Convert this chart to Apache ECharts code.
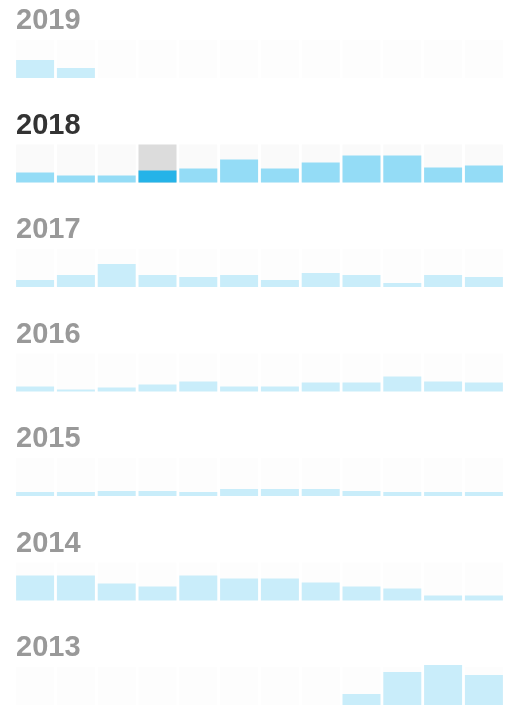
<!DOCTYPE html>
<html>
<head>
<meta charset="utf-8">
<script src="https://cdn.jsdelivr.net/npm/echarts@6/dist/echarts.min.js"></script>
<style>
html,body{margin:0;padding:0;background:#fff;}
#chart{width:512px;height:713px;}
</style>
</head>
<body>
<div id="chart"></div>
<script>
const months = ['Jan','Feb','Mar','Apr','May','Jun','Jul','Aug','Sep','Oct','Nov','Dec'];
const years = ['2019','2018','2017','2016','2015','2014','2013'];
const v2019 = [18, 10, null, null, null, null, null, null, null, null, null, null];
const v2018 = [10, 7, 7, 12, 14, 23, 14, 20, 27, 27, 15, 17];
const v2017 = [7, 12, 23, 12, 10, 12, 7, 14, 12, 4, 12, 10];
const v2016 = [5, 2, 4, 7, 10, 5, 5, 9, 9, 15, 10, 9];
const v2015 = [4, 4, 5, 5, 4, 7, 7, 7, 5, 4, 4, 4];
const v2014 = [25, 25, 17, 14, 25, 22, 22, 18, 14, 12, 5, 5];
const v2013 = [null, null, null, null, null, null, null, null, 11, 33, 40, 30];
const cellMax = 38;
const selectedYear = '2018';
const selectedMonth = 'Apr';

const valuesByYear = [v2019, v2018, v2017, v2016, v2015, v2014, v2013];

const rowPitch = 104.5;
const gridTop0 = 40;
const titles = [], grids = [], xAxes = [], yAxes = [], series = [];

years.forEach((yr, i) => {
  const sel = yr === selectedYear;
  titles.push({
    text: yr, left: 16, top: 6.5 + rowPitch * i,
    padding: 0,
    textStyle: {fontFamily: 'Liberation Sans, Arial, sans-serif', fontSize: 29, fontWeight: 'bold', color: sel ? '#333333' : '#999999'}
  });
  grids.push({left: 14.7, right: 7.7, top: gridTop0 + rowPitch * i, height: 38});
  xAxes.push({type: 'category', gridIndex: i, data: months, show: false});
  yAxes.push({type: 'value', gridIndex: i, min: 0, max: cellMax, show: false});
  series.push({
    type: 'bar', xAxisIndex: i, yAxisIndex: i, barWidth: 38, barGap: '-100%',
    silent: true, animation: false, z: 1,
    data: months.map(m => ({
      value: cellMax,
      itemStyle: {color: (sel && m === selectedMonth) ? '#dcdcdc' : (sel ? '#fafafa' : '#fdfdfd')}
    }))
  });
  series.push({
    type: 'bar', xAxisIndex: i, yAxisIndex: i, barWidth: 38, barGap: '-100%',
    animation: false, z: 2, clip: false,
    data: valuesByYear[i].map((v, j) => ({
      value: v,
      itemStyle: {color: (sel && months[j] === selectedMonth) ? '#25b3e8' : (sel ? '#94dcf6' : '#c9edfa')}
    }))
  });
});

const chart = echarts.init(document.getElementById('chart'), null, {renderer: 'canvas'});
chart.setOption({
  backgroundColor: '#ffffff',
  animation: false,
  title: titles,
  grid: grids,
  xAxis: xAxes,
  yAxis: yAxes,
  series: series
});
</script>
</body>
</html>
